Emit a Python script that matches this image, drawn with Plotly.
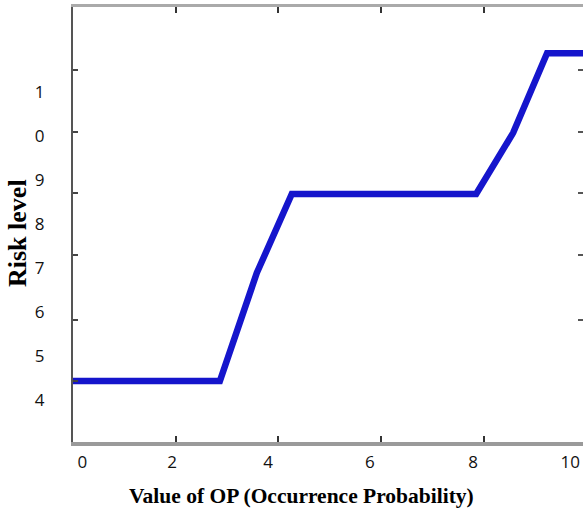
import plotly.graph_objects as go

# ---- data ----
op_values = [0.0, 2.86, 3.58, 4.26, 7.85, 8.57, 9.23, 9.93]
risk_values = [4.43, 4.43, 6.89, 8.68, 8.68, 10.07, 11.88, 11.88]

x_tick_labels = ["0", "2", "4", "6", "8", "10"]
y_tick_labels = ["4", "5", "6", "7", "8", "9", "0", "1"]

x_title = "Value of OP (Occurrence Probability)"
y_title = "Risk level"

# ---- layout helpers (label / tick-mark placement of the scanned original) ----
x_label_pos = [0.18, 1.93, 3.80, 5.78, 7.79, 9.68]
x_mark_pos = [2, 4, 6, 8]
y_label_pos = [4, 5, 6, 7, 8, 9, 10, 11]
y_mark_pos = [4.43, 5.82, 7.30, 8.70, 10.09, 11.5]

X_RANGE = [0, 9.93]
Y_RANGE = [3.045, 12.93]

tick_font = dict(family="Open Sans, Liberation Sans, sans-serif", size=17, color="#111")
title_font = dict(family="Liberation Serif, Times New Roman, serif", size=21.5, color="#000")

fig = go.Figure()
fig.add_trace(go.Scatter(
    x=op_values, y=risk_values, mode="lines",
    line=dict(color="#1515cc", width=6.5), showlegend=False, hoverinfo="skip",
))
# empty trace so the secondary (mirror) axes are drawn
fig.add_trace(go.Scatter(x=[None], y=[None], xaxis="x2", yaxis="y2",
                         showlegend=False, hoverinfo="skip"))

fig.update_layout(
    width=583, height=514,
    margin=dict(l=73, r=0, t=7, b=72, autoexpand=False),
    paper_bgcolor="white", plot_bgcolor="white",
    xaxis=dict(
        range=X_RANGE, showgrid=False, zeroline=False, automargin=False,
        showline=True, linecolor="#9a9a9a", linewidth=4,
        tickmode="array", tickvals=x_label_pos, ticktext=x_tick_labels,
        ticks="", tickfont=tick_font, ticklabelstandoff=2,
        minor=dict(tickmode="array", tickvals=x_mark_pos, ticks="inside",
                   ticklen=6, tickwidth=2, tickcolor="#333"),
    ),
    yaxis=dict(
        range=Y_RANGE, showgrid=False, zeroline=False, automargin=False,
        showline=True, linecolor="#555", linewidth=2,
        tickmode="array", tickvals=y_label_pos, ticktext=y_tick_labels,
        ticks="", tickfont=tick_font, ticklabelstandoff=23,
        minor=dict(tickmode="array", tickvals=y_mark_pos, ticks="inside",
                   ticklen=5, tickwidth=2, tickcolor="#444"),
    ),
    xaxis2=dict(
        overlaying="x", side="top", anchor="y2", range=X_RANGE, automargin=False,
        showgrid=False, zeroline=False, showticklabels=False,
        showline=True, linecolor="#aaaaaa", linewidth=3,
        tickmode="array", tickvals=x_mark_pos, ticks="inside",
        ticklen=6, tickwidth=2, tickcolor="#333",
    ),
    yaxis2=dict(
        overlaying="y", side="right", anchor="x2", range=Y_RANGE, automargin=False,
        showgrid=False, zeroline=False, showticklabels=False, showline=False,
        tickmode="array", tickvals=y_mark_pos[1:], ticks="inside",
        ticklen=5, tickwidth=2, tickcolor="#555",
    ),
    annotations=[
        dict(text=f"<b>{x_title}</b>", xref="paper", yref="paper",
             x=(301 - 73) / 510, y=-(496 - 442) / 435, xanchor="center", yanchor="middle",
             showarrow=False, font=title_font),
        dict(text=f"<b>{y_title}</b>", xref="paper", yref="paper",
             x=-(73 - 17) / 510, y=(442 - 233) / 435, xanchor="center", yanchor="middle",
             textangle=-90, showarrow=False, font=dict(title_font, size=26)),
    ],
)

fig.write_html(
    "out.html",
    config={"displayModeBar": False},
    post_script="document.body.style.margin='0';document.body.style.padding='0';",
)
